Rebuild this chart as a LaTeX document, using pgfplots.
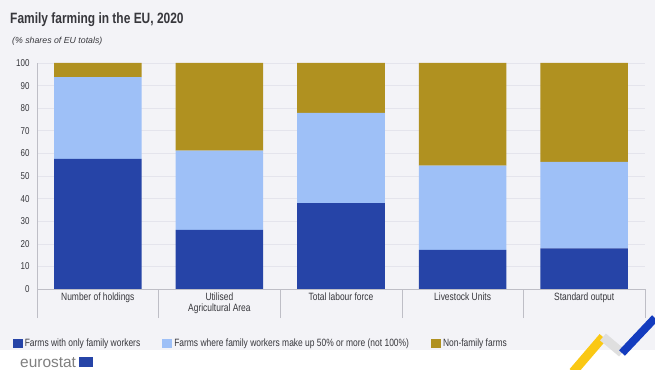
\documentclass[border=0pt]{standalone}
\usepackage{fontspec}
\setmainfont[FakeStretch=0.8]{Liberation Sans}
\newfontfamily\plainsans{Liberation Sans}
\usepackage{pgfplots}
\pgfplotsset{compat=1.18}
\definecolor{bg}{RGB}{243,243,247}
\definecolor{c1}{RGB}{38,68,167}
\definecolor{c2}{RGB}{158,192,247}
\definecolor{c3}{RGB}{176,145,32}
\definecolor{txt}{RGB}{55,55,60}
\definecolor{gridc}{RGB}{228,228,236}
\definecolor{axc}{RGB}{190,190,198}
\definecolor{eyellow}{RGB}{250,200,20}
\definecolor{eblue}{RGB}{20,60,190}
\begin{document}
\begin{tikzpicture}
\useasboundingbox (0bp,0bp) rectangle (655bp,370bp);
\fill[bg] (0bp,0bp) rectangle (655bp,370bp);
\fill[white] (0bp,0bp) rectangle (655bp,20bp);
\node[anchor=base west, font=\bfseries\fontsize{15}{17}\selectfont, text=txt, inner sep=0pt] at (10bp,346bp) {Family farming in the EU, 2020};
\node[anchor=base west, font=\plainsans\itshape\fontsize{8.8}{10}\selectfont, text=txt, inner sep=0pt] at (12bp,326bp) {(\% shares of EU totals)};
\begin{axis}[
  at={(37bp,81bp)}, anchor=south west, scale only axis,
  width=608bp, height=226bp,
  ybar stacked, bar width=0.72,
  xmin=-0.5, xmax=4.5, ymin=0, ymax=100,
  ytick={0,10,...,100}, xtick={0,1,2,3,4},
  xticklabels={Number of holdings, Utilised\\Agricultural Area, Total labour force, Livestock Units, Standard output},
  x tick label style={align=center, font=\fontsize{10.6}{11.5}\selectfont, text=txt, yshift=0bp},
  y tick label style={font=\fontsize{10}{11}\selectfont, text=txt, xshift=-4bp},
  /pgf/number format/assume math mode=true,
  major x tick style={draw=none},
  major y tick style={draw=none},
  extra x ticks={-0.5,0.5,1.5,2.5,3.5,4.5},
  extra x tick labels={},
  extra x tick style={grid=none, major tick length=29bp, tick align=outside, major x tick style={draw=axc, thin}},
  ymajorgrids, grid style={gridc, line width=0.6pt},
  axis x line*=bottom, axis y line*=left,
  axis line style={axc, thin, -},
  legend style={at={(rel axis cs:-0.045,-0.243)}, anchor=west, draw=none, fill=none,
    font=\fontsize{10.6}{12}\selectfont, text=txt,
    legend columns=3, /tikz/every even column/.append style={column sep=20bp}},
  legend cell align=left,
  legend image code/.code={\fill[#1] (0bp,-4.5bp) rectangle (10bp,4.5bp);},
]
\addplot[fill=c1, draw=none] coordinates {(0,57.6) (1,26.2) (2,38.0) (3,17.3) (4,18.0)};
\addplot[fill=c2, draw=none] coordinates {(0,36.2) (1,35.0) (2,39.9) (3,37.3) (4,38.3)};
\addplot[fill=c3, draw=none] coordinates {(0,6.2) (1,38.8) (2,22.1) (3,45.4) (4,43.7)};
\legend{Farms with only family workers, Farms where family workers make up 50\% or more (not 100\%), Non-family farms}
\end{axis}
\node[anchor=base west, font=\plainsans\fontsize{15.5}{17}\selectfont, text=gray, inner sep=0pt] at (20bp,3bp) {eurostat};
\fill[c1] (79bp,3bp) rectangle (93bp,13bp);
\draw[eyellow, line width=9bp] (573bp,-2bp) -- (603bp,33bp);
\draw[gray!25, line width=9bp] (603bp,33bp) -- (622bp,17bp);
\draw[eblue, line width=8bp] (622bp,17bp) -- (655bp,52bp);
\end{tikzpicture}
\end{document}
